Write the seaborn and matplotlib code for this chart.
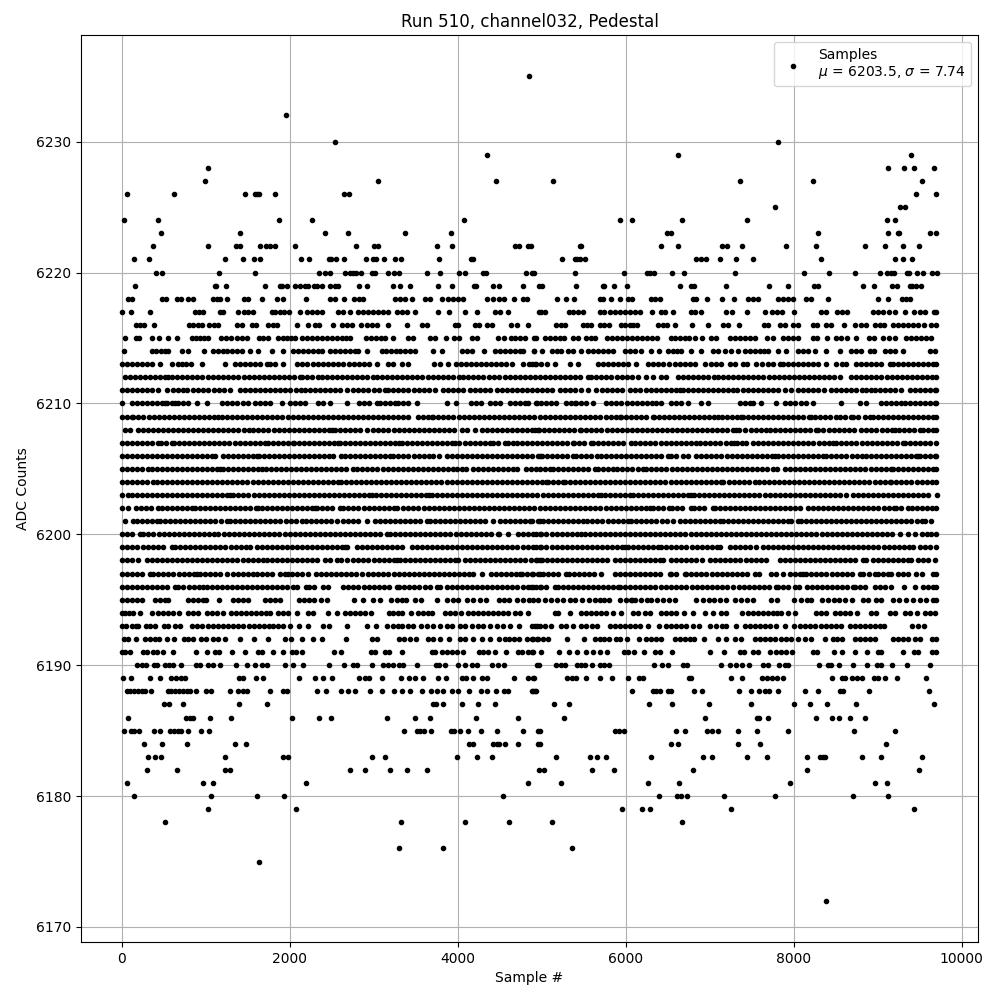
import pandas as pd
import matplotlib
matplotlib.use("Agg")
import matplotlib.pyplot as plt
import seaborn as sns

# ==========================
# DATA: sample numbers, one list per ADC level
# ==========================

s6235 = [4850]
s6232 = [1960]
s6230 = [2543, 7809]
s6229 = [4353, 6619, 9393]
s6228 = [1032, 9119, 9309, 9428, 9666]
s6227 = [996, 3055, 4460, 5131, 7357, 8226, 9523]
s6226 = [67, 627, 1472, 1591, 1615, 1639, 1829, 2650, 2710, 9452, 9690]
s6225 = [7774, 9262, 9321]
s6224 = [32, 436, 1877, 2270, 4079, 5929, 6071, 6667, 7440, 9107, 9202]
s6223 = [472, 1413, 2424, 2698, 3377, 3924, 6488, 6536, 8286, 9119, 9238, 9250, 9619, 9690]
s6222 = [377, 1032, 1365, 1413, 1651, 1722, 1770, 1829, 2067, 2793, 3007, 3055, 3758, 3936, 4686, 4734, 4841,
         4877, 5452, 5472, 6417, 6619, 7143, 7202, 7381, 7905, 8262, 8845, 9083, 9297, 9488]
s6221 = [151, 329, 1234, 1448, 1579, 1651, 2139, 2234, 2472, 2496, 2555, 2650, 2912, 2996, 3032, 3127, 3258, 3329,
         3781, 4158, 4182, 5238, 5393, 5417, 5452, 5512, 6833, 6893, 6952, 7119, 7309, 7512, 8321, 9202, 9297, 9404]
s6220 = [413, 484, 1163, 1591, 2353, 2424, 2484, 2663, 2722, 2758, 2793, 2853, 2984, 3019, 3174, 3246, 3305, 3639,
         3793, 4020, 4091, 4305, 4341, 4817, 4888, 4905, 5393, 5976, 6250, 6286, 6333, 6548, 6690, 7298, 8119, 8417,
         8726, 9024, 9107, 9155, 9190, 9345, 9369, 9464, 9535, 9643, 9702]
s6219 = [163, 1115, 1127, 1246, 1710, 1889, 1913, 1972, 2067, 2127, 2186, 2222, 2293, 2329, 2389, 2484, 2543, 2579,
         2829, 2924, 3234, 3317, 3436, 3770, 3936, 4198, 4222, 4424, 4496, 4781, 4972, 5000, 5405, 5726, 5738, 5857,
         6012, 6643, 6774, 6810, 7190, 7702, 7929, 8238, 8286, 8821, 8952, 9167, 9226, 9381, 9404, 9452, 9512]
s6218 = [79, 127, 484, 524, 663, 702, 794, 853, 1091, 1131, 1171, 1258, 1460, 1508, 1675, 1853, 1925, 2198, 2480,
         2540, 2651, 2770, 2829, 2877, 3254, 3313, 3373, 3452, 3611, 3670, 3809, 3881, 3948, 4008, 4059, 4353, 4424,
         4496, 4551, 4674, 4781, 4829, 5179, 5286, 5381, 5690, 5730, 5821, 5929, 6028, 6075, 6298, 6345, 6405, 6802,
         6841, 6968, 7147, 7286, 7456, 7516, 7575, 7813, 7873, 7932, 7992, 8151, 8202, 8405, 9000, 9119, 9294, 9341,
         9389]
s6217 = [0, 107, 341, 873, 921, 964, 1171, 1202, 1381, 1460, 1508, 1559, 1786, 1825, 1885, 1936, 1992, 2123, 2202,
         2262, 2321, 2381, 2579, 2639, 2718, 2817, 2877, 2936, 2996, 3055, 3115, 3174, 3274, 3333, 3393, 3492, 3770,
         3901, 4091, 4234, 4444, 4504, 4603, 4972, 4988, 5044, 5321, 5373, 5433, 5492, 5690, 5742, 5810, 5869, 5929,
         5988, 6048, 6107, 6167, 6313, 6425, 6464, 6563, 6774, 6829, 6893, 7190, 7266, 7444, 7655, 7742, 7801, 7861,
         8000, 8329, 8389, 8516, 8575, 8635, 8944, 9004, 9063, 9131, 9202, 9321, 9428, 9500, 9560, 9671, 9700]
s6216 = [167, 218, 270, 381, 806, 853, 905, 952, 1044, 1099, 1151, 1377, 1428, 1548, 1599, 1746, 1798, 1845, 2091,
         2222, 2302, 2349, 2520, 2627, 2686, 2738, 2849, 2916, 2976, 3035, 3170, 3401, 3571, 3631, 3968, 4008, 4206,
         4258, 4345, 4404, 4631, 4702, 4841, 5175, 5226, 5274, 5492, 5544, 5591, 5690, 5742, 5798, 5948, 5996, 6048,
         6087, 6139, 6385, 6444, 6496, 6591, 6790, 6980, 7159, 7218, 7345, 7643, 7694, 7833, 7893, 7992, 8052, 8230,
         8282, 8389, 8440, 8599, 8726, 8805, 8857, 8964, 9024, 9075, 9182, 9242, 9301, 9361, 9420, 9480, 9551, 9639,
         9698]
s6215 = [44, 167, 210, 365, 448, 556, 655, 833, 885, 933, 980, 1032, 1179, 1242, 1298, 1377, 1428, 1488, 1639, 1686,
         1746, 1865, 1917, 1964, 2016, 2063, 2151, 2202, 2262, 2321, 2381, 2440, 2500, 2560, 2619, 2670, 2718, 2905,
         2964, 3028, 3083, 3135, 3234, 3413, 3464, 3670, 3730, 3857, 3956, 4020, 4166, 4226, 4484, 4551, 4631, 4682,
         4742, 4801, 4908, 4929, 5036, 5095, 5155, 5214, 5266, 5373, 5433, 5532, 5583, 5631, 5782, 5841, 5901, 5960,
         6020, 6079, 6139, 6198, 6258, 6317, 6377, 6536, 6591, 6651, 6702, 6754, 6821, 6909, 7012, 7079, 7246, 7306,
         7365, 7425, 7484, 7544, 7686, 7754, 7873, 7932, 7992, 8052, 8230, 8282, 8401, 8508, 8567, 8639, 8746, 8893,
         8956, 9063, 9131, 9202, 9341, 9401, 9460, 9520, 9579, 9639]
s6214 = [28, 357, 412, 468, 510, 556, 714, 794, 984, 1091, 1147, 1202, 1258, 1314, 1372, 1428, 1528, 1627, 1790,
         1921, 2044, 2103, 2162, 2221, 2280, 2340, 2381, 2480, 2540, 2600, 2660, 2720, 2780, 2817, 2916, 3095, 3150,
         3210, 3262, 3313, 3373, 3432, 3492, 3710, 3809, 4047, 4107, 4166, 4318, 4444, 4503, 4562, 4621, 4680, 4740,
         4781, 4905, 4905, 5007, 5123, 5178, 5234, 5313, 5378, 5464, 5552, 5610, 5672, 5735, 5795, 5849, 5988, 6050,
         6110, 6186, 6298, 6393, 6504, 6565, 6610, 6663, 6782, 6893, 7040, 7100, 7179, 7258, 7337, 7417, 7475, 7535,
         7595, 7650, 7694, 7813, 7913, 8052, 8110, 8170, 8250, 8389, 8547, 8686, 8745, 8805, 8905, 8960, 9091, 9150,
         9210, 9301, 9619, 9679]
s6213 = [0, 60, 119, 178, 240, 300, 360, 456, 595, 666, 714, 770, 821, 952, 1230, 1349, 1410, 1470, 1530, 1590, 1650,
         1726, 1766, 1830, 1925, 2083, 2150, 2202, 2282, 2340, 2400, 2460, 2520, 2580, 2640, 2700, 2760, 2820, 2880,
         2940, 3035, 3174, 3235, 3333, 3413, 3720, 3789, 3881, 3980, 4040, 4100, 4160, 4220, 4280, 4340, 4400, 4460,
         4520, 4580, 4643, 4781, 4850, 4920, 4888, 4937, 4996, 5060, 5155, 5333, 5433, 5671, 5730, 5790, 5850, 5910,
         5970, 6030, 6127, 6270, 6330, 6390, 6450, 6520, 6591, 6651, 6710, 6770, 6830, 6941, 7016, 7075, 7139, 7238,
         7300, 7397, 7448, 7556, 7620, 7690, 7760, 7833, 7873, 7935, 7995, 8055, 8115, 8175, 8235, 8295, 8389, 8508,
         8570, 8627, 8746, 8805, 8865, 8925, 8985, 9045, 9143, 9182, 9240, 9300, 9360, 9420, 9480, 9540, 9600, 9660,
         9700]
s6212 = [40, 100, 160, 220, 280, 340, 400, 460, 520, 556, 595, 655, 715, 774, 833, 895, 955, 1032, 1091, 1150, 1210,
         1270, 1330, 1390, 1450, 1510, 1570, 1630, 1690, 1750, 1810, 1870, 1930, 1990, 2050, 2123, 2143, 2205, 2265,
         2341, 2381, 2440, 2500, 2560, 2620, 2680, 2740, 2800, 2860, 2920, 2996, 3035, 3095, 3155, 3215, 3275, 3335,
         3395, 3455, 3515, 3571, 3650, 3710, 3770, 3830, 3890, 3950, 4010, 4067, 4127, 4187, 4247, 4307, 4367, 4427,
         4487, 4563, 4623, 4683, 4743, 4803, 4863, 4920, 4980, 5040, 5100, 5160, 5220, 5280, 5340, 5400, 5460, 5552,
         5591, 5651, 5711, 5771, 5831, 5891, 5951, 6011, 6071, 6147, 6246, 6325, 6425, 6475, 6623, 6683, 6743, 6803,
         6863, 6923, 6983, 7052, 7099, 7159, 7219, 7279, 7339, 7399, 7459, 7519, 7579, 7639, 7702, 7766, 7826, 7886,
         7946, 8006, 8066, 8126, 8186, 8246, 8306, 8366, 8426, 8486, 8547, 8686, 8746, 8806, 8866, 8926, 8986, 9046,
         9106, 9166, 9226, 9286, 9346, 9406, 9466, 9526, 9586, 9646, 9700]
s6211 = [0, 60, 120, 180, 240, 300, 360, 436, 536, 615, 675, 735, 782, 853, 913, 973, 1033, 1093, 1153, 1213, 1290,
         1409, 1469, 1529, 1589, 1649, 1709, 1769, 1829, 1889, 1949, 2009, 2069, 2129, 2183, 2242, 2302, 2362, 2422,
         2482, 2542, 2602, 2678, 2758, 2818, 2878, 2938, 2998, 3058, 3135, 3174, 3234, 3294, 3354, 3414, 3474, 3534,
         3594, 3654, 3730, 3829, 3889, 3949, 4009, 4069, 4147, 4206, 4266, 4326, 4386, 4464, 4523, 4583, 4643, 4703,
         4763, 4823, 4883, 4943, 5003, 5063, 5123, 5214, 5274, 5334, 5394, 5464, 5552, 5651, 5718, 5778, 5838, 5898,
         5958, 6048, 6115, 6175, 6246, 6298, 6358, 6418, 6478, 6538, 6598, 6643, 6682, 6742, 6802, 6862, 6922, 6982,
         7042, 7102, 7162, 7222, 7282, 7329, 7397, 7457, 7517, 7577, 7637, 7697, 7757, 7817, 7893, 7972, 8051, 8111,
         8171, 8231, 8290, 8361, 8448, 8508, 8568, 8628, 8688, 8748, 8808, 8865, 8925, 8964, 9024, 9084, 9144, 9204,
         9282, 9381, 9441, 9501, 9561, 9621, 9681, 9700]
s6210 = [8, 119, 179, 239, 299, 359, 419, 479, 516, 536, 600, 635, 675, 735, 794, 900, 1012, 1190, 1250, 1310, 1370,
         1448, 1508, 1587, 1647, 1707, 1766, 1905, 2004, 2064, 2124, 2183, 2341, 2401, 2480, 2686, 2829, 2889, 2949,
         3035, 3075, 3135, 3195, 3255, 3293, 3353, 3413, 3511, 3869, 3980, 4155, 4215, 4282, 4385, 4445, 4504, 4623,
         4683, 4743, 4803, 4841, 4940, 4937, 4997, 5056, 5115, 5175, 5294, 5345, 5393, 5413, 5473, 5533, 5611, 5770,
         5830, 5890, 5950, 6010, 6070, 6130, 6190, 6250, 6310, 6365, 6425, 6544, 6604, 6664, 6742, 6901, 6980, 7357,
         7417, 7476, 7516, 7615, 7794, 7893, 7953, 8012, 8091, 8151, 8230, 8567, 8785, 8865, 9044, 9104, 9164, 9224,
         9282, 9321, 9381, 9441, 9501, 9561, 9621, 9681, 9700]
s6209 = [0, 60, 119, 139, 199, 259, 319, 379, 439, 499, 559, 619, 679, 739, 799, 859, 919, 979, 1039, 1099, 1151,
         1194, 1254, 1314, 1374, 1434, 1494, 1554, 1614, 1674, 1734, 1794, 1854, 1914, 1974, 2034, 2094, 2154, 2214,
         2274, 2334, 2394, 2454, 2514, 2574, 2634, 2694, 2754, 2814, 2874, 2934, 2994, 3054, 3114, 3174, 3234, 3294,
         3354, 3413, 3531, 3591, 3651, 3690, 3710, 3770, 3830, 3890, 3950, 4010, 4070, 4130, 4190, 4250, 4310, 4370,
         4430, 4490, 4550, 4610, 4670, 4730, 4790, 4850, 4910, 4980, 5040, 5100, 5160, 5220, 5280, 5340, 5400, 5460,
         5520, 5580, 5640, 5700, 5760, 5820, 5880, 5929, 5948, 6008, 6068, 6128, 6188, 6248, 6325, 6337, 6397, 6457,
         6517, 6577, 6637, 6697, 6757, 6817, 6877, 6937, 6997, 7057, 7099, 7147, 7207, 7267, 7327, 7377, 7397, 7457,
         7517, 7577, 7637, 7697, 7757, 7817, 7877, 7937, 7997, 8057, 8117, 8177, 8210, 8250, 8310, 8370, 8430, 8508,
         8547, 8607, 8686, 8706, 8766, 8845, 8905, 8944, 9004, 9064, 9124, 9184, 9244, 9304, 9364, 9424, 9484, 9544,
         9604, 9664, 9700]
s6208 = [40, 100, 198, 250, 310, 370, 430, 490, 550, 610, 670, 730, 790, 850, 910, 970, 1030, 1090, 1150, 1210, 1270,
         1330, 1390, 1450, 1510, 1560, 1627, 1687, 1747, 1807, 1867, 1927, 1987, 2047, 2107, 2167, 2227, 2287, 2347,
         2407, 2467, 2500, 2540, 2600, 2660, 2720, 2780, 2840, 2916, 2996, 3056, 3116, 3176, 3236, 3296, 3356, 3416,
         3476, 3536, 3596, 3656, 3716, 3776, 3836, 3896, 3956, 4047, 4107, 4204, 4285, 4345, 4405, 4465, 4525, 4585,
         4645, 4705, 4765, 4825, 4885, 4920, 4960, 4964, 5024, 5084, 5144, 5204, 5264, 5324, 5384, 5452, 5472, 5532,
         5592, 5652, 5712, 5772, 5832, 5892, 5952, 6012, 6072, 6132, 6192, 6252, 6312, 6372, 6432, 6492, 6552, 6612,
         6672, 6732, 6792, 6852, 6912, 6972, 7032, 7092, 7152, 7212, 7272, 7317, 7345, 7420, 7496, 7556, 7616, 7676,
         7714, 7774, 7834, 7894, 7954, 8014, 8074, 8134, 8194, 8270, 8290, 8349, 8417, 8477, 8537, 8597, 8657, 8718,
         8805, 8865, 8925, 8984, 9052, 9112, 9172, 9202, 9250, 9310, 9370, 9430, 9500, 9540, 9600, 9660, 9700]
s6207 = [0, 60, 120, 180, 240, 300, 360, 437, 464, 524, 595, 623, 683, 743, 803, 863, 923, 983, 1043, 1103, 1163,
         1223, 1283, 1343, 1403, 1463, 1523, 1583, 1643, 1703, 1746, 1798, 1858, 1918, 1978, 2036, 2052, 2112, 2172,
         2232, 2292, 2352, 2412, 2472, 2532, 2579, 2599, 2659, 2719, 2779, 2839, 2899, 2959, 3019, 3079, 3139, 3199,
         3259, 3305, 3333, 3393, 3453, 3513, 3573, 3633, 3693, 3753, 3813, 3873, 3933, 3968, 4020, 4087, 4147, 4207,
         4267, 4327, 4385, 4424, 4484, 4563, 4603, 4660, 4702, 4762, 4822, 4882, 4942, 5002, 5062, 5122, 5182, 5242,
         5302, 5373, 5385, 5445, 5505, 5583, 5611, 5671, 5731, 5791, 5851, 5911, 5971, 6067, 6115, 6175, 6235, 6295,
         6355, 6415, 6475, 6535, 6595, 6655, 6715, 6775, 6841, 6889, 6949, 7009, 7069, 7129, 7189, 7249, 7290, 7329,
         7389, 7436, 7516, 7576, 7636, 7696, 7756, 7816, 7876, 7936, 7996, 8056, 8116, 8176, 8236, 8296, 8356, 8416,
         8468, 8508, 8568, 8628, 8688, 8748, 8808, 8868, 8928, 8988, 9048, 9108, 9168, 9228, 9301, 9330, 9389, 9449,
         9509, 9569, 9629, 9700]
s6206 = [0, 60, 120, 180, 240, 300, 360, 420, 480, 540, 600, 660, 720, 780, 840, 900, 960, 1020, 1080, 1111, 1206,
         1266, 1326, 1386, 1446, 1506, 1566, 1607, 1630, 1690, 1750, 1810, 1870, 1930, 1990, 2050, 2110, 2170, 2230,
         2290, 2350, 2410, 2470, 2520, 2607, 2659, 2719, 2779, 2839, 2899, 2959, 3019, 3079, 3139, 3194, 3234, 3294,
         3354, 3414, 3474, 3534, 3594, 3654, 3710, 3781, 3877, 3928, 3988, 4048, 4108, 4168, 4228, 4288, 4348, 4408,
         4468, 4528, 4588, 4648, 4708, 4768, 4828, 4888, 4960, 4976, 5004, 5064, 5124, 5184, 5244, 5304, 5373, 5413,
         5472, 5532, 5592, 5663, 5702, 5762, 5822, 5882, 5942, 6002, 6062, 6122, 6182, 6242, 6302, 6362, 6422, 6504,
         6544, 6604, 6682, 6741, 6841, 6901, 6961, 7021, 7081, 7141, 7201, 7261, 7321, 7381, 7441, 7501, 7561, 7621,
         7681, 7741, 7774, 7813, 7873, 7933, 7993, 8053, 8113, 8173, 8233, 8293, 8349, 8389, 8449, 8509, 8569, 8629,
         8689, 8749, 8813, 8857, 8917, 8977, 9037, 9097, 9157, 9217, 9277, 9337, 9397, 9457, 9480, 9500, 9560, 9620,
         9680, 9700]
s6205 = [0, 60, 120, 180, 240, 317, 357, 417, 477, 537, 597, 657, 717, 777, 837, 897, 957, 1017, 1077, 1137, 1170,
         1202, 1262, 1322, 1382, 1442, 1502, 1562, 1622, 1667, 1714, 1774, 1834, 1894, 1954, 2014, 2074, 2134, 2194,
         2254, 2314, 2374, 2434, 2494, 2554, 2614, 2674, 2758, 2805, 2865, 2925, 2985, 3045, 3105, 3165, 3225, 3285,
         3345, 3405, 3465, 3525, 3585, 3645, 3705, 3765, 3825, 3885, 3948, 3996, 4055, 4099, 4186, 4246, 4306, 4366,
         4426, 4476, 4535, 4595, 4655, 4702, 4813, 4873, 4933, 4980, 5040, 5095, 5135, 5195, 5255, 5315, 5375, 5435,
         5495, 5552, 5631, 5671, 5731, 5791, 5849, 5901, 5961, 6021, 6081, 6141, 6206, 6246, 6306, 6366, 6426, 6486,
         6546, 6606, 6666, 6726, 6786, 6846, 6906, 6966, 7026, 7086, 7146, 7206, 7266, 7326, 7386, 7446, 7506, 7566,
         7626, 7686, 7754, 7805, 7893, 7953, 8013, 8073, 8133, 8193, 8253, 8313, 8373, 8433, 8493, 8553, 8613, 8673,
         8733, 8785, 8845, 8925, 8984, 9044, 9104, 9155, 9182, 9242, 9302, 9362, 9422, 9482, 9542, 9602, 9662, 9700]
s6204 = [0, 60, 120, 180, 240, 300, 377, 417, 477, 537, 597, 657, 717, 777, 837, 897, 957, 1017, 1077, 1137, 1197,
         1257, 1317, 1377, 1437, 1497, 1557, 1617, 1677, 1737, 1797, 1857, 1917, 1977, 2037, 2097, 2157, 2217, 2277,
         2337, 2397, 2457, 2517, 2579, 2607, 2667, 2727, 2787, 2847, 2907, 2967, 3027, 3087, 3147, 3207, 3267, 3327,
         3387, 3447, 3507, 3567, 3627, 3687, 3747, 3807, 3867, 3927, 3987, 4047, 4107, 4167, 4227, 4287, 4347, 4407,
         4467, 4527, 4587, 4647, 4707, 4767, 4827, 4887, 4947, 5007, 5056, 5075, 5135, 5195, 5254, 5274, 5334, 5394,
         5454, 5514, 5574, 5634, 5694, 5754, 5814, 5874, 5934, 5994, 6054, 6114, 6174, 6234, 6294, 6354, 6414, 6474,
         6534, 6594, 6654, 6714, 6774, 6834, 6894, 6954, 7014, 7074, 7134, 7159, 7226, 7286, 7346, 7406, 7466, 7543,
         7583, 7643, 7703, 7763, 7823, 7883, 7943, 8003, 8063, 8123, 8183, 8243, 8303, 8363, 8423, 8483, 8543, 8603,
         8663, 8723, 8783, 8843, 8903, 8963, 9023, 9083, 9143, 9163, 9223, 9283, 9343, 9403, 9463, 9523, 9583, 9643,
         9698]
s6203 = [0, 79, 119, 179, 239, 299, 359, 419, 479, 539, 599, 659, 719, 779, 839, 899, 959, 1019, 1079, 1139, 1199,
         1259, 1290, 1329, 1389, 1449, 1509, 1569, 1629, 1689, 1749, 1809, 1869, 1929, 1989, 2049, 2109, 2169, 2229,
         2289, 2349, 2409, 2469, 2529, 2589, 2649, 2709, 2769, 2829, 2889, 2949, 2976, 3028, 3088, 3148, 3208, 3268,
         3328, 3388, 3448, 3508, 3568, 3628, 3662, 3690, 3750, 3810, 3870, 3930, 3990, 4050, 4110, 4170, 4230, 4290,
         4350, 4410, 4470, 4530, 4590, 4650, 4710, 4770, 4830, 4890, 4950, 5010, 5070, 5130, 5190, 5250, 5310, 5370,
         5430, 5490, 5550, 5610, 5670, 5710, 5758, 5818, 5878, 5938, 5998, 6048, 6087, 6147, 6207, 6267, 6327, 6387,
         6447, 6507, 6567, 6627, 6687, 6747, 6782, 6813, 6873, 6933, 6993, 7053, 7113, 7173, 7233, 7293, 7353, 7413,
         7473, 7533, 7593, 7653, 7713, 7773, 7833, 7893, 7953, 8013, 8073, 8133, 8193, 8253, 8313, 8373, 8433, 8493,
         8553, 8627, 8706, 8766, 8826, 8886, 8946, 9006, 9066, 9126, 9186, 9246, 9306, 9366, 9426, 9486, 9546, 9599,
         9710]
s6202 = [0, 79, 171, 231, 291, 351, 436, 476, 536, 596, 656, 716, 776, 833, 873, 933, 993, 1053, 1113, 1173, 1233,
         1293, 1353, 1413, 1473, 1533, 1593, 1627, 1667, 1727, 1787, 1847, 1907, 1967, 2027, 2087, 2147, 2207, 2267,
         2301, 2321, 2381, 2441, 2501, 2599, 2639, 2699, 2759, 2819, 2879, 2939, 2999, 3059, 3119, 3179, 3239, 3274,
         3353, 3413, 3473, 3533, 3593, 3653, 3713, 3773, 3833, 3893, 3953, 4013, 4073, 4133, 4193, 4253, 4313, 4373,
         4433, 4493, 4553, 4613, 4673, 4733, 4793, 4853, 4913, 4980, 5040, 5100, 5160, 5220, 5280, 5340, 5400, 5460,
         5520, 5580, 5640, 5700, 5760, 5820, 5880, 5940, 6000, 6060, 6120, 6180, 6240, 6286, 6325, 6385, 6445, 6512,
         6552, 6612, 6672, 6774, 6813, 6873, 6933, 7040, 7060, 7120, 7180, 7240, 7300, 7360, 7420, 7480, 7540, 7600,
         7660, 7720, 7780, 7840, 7900, 7960, 8020, 8080, 8170, 8230, 8290, 8350, 8410, 8470, 8530, 8590, 8650, 8710,
         8770, 8830, 8890, 8950, 9010, 9070, 9130, 9194, 9222, 9282, 9361, 9405, 9465, 9525, 9585, 9645, 9700]
s6201 = [40, 139, 179, 239, 299, 359, 419, 456, 516, 576, 636, 696, 756, 816, 876, 936, 996, 1056, 1116, 1176, 1250,
         1290, 1350, 1410, 1470, 1530, 1590, 1650, 1710, 1770, 1830, 1890, 1950, 2010, 2070, 2143, 2194, 2254, 2314,
         2374, 2434, 2494, 2559, 2639, 2699, 2759, 2819, 2916, 3016, 3076, 3136, 3196, 3256, 3316, 3376, 3436, 3496,
         3556, 3631, 3670, 3730, 3790, 3850, 3910, 3970, 4030, 4090, 4150, 4210, 4270, 4330, 4424, 4504, 4564, 4624,
         4684, 4744, 4804, 4864, 4960, 4880, 4976, 5016, 5076, 5136, 5196, 5256, 5316, 5376, 5436, 5492, 5544, 5604,
         5664, 5724, 5784, 5844, 5904, 5964, 6028, 6067, 6127, 6187, 6247, 6307, 6367, 6427, 6487, 6563, 6643, 6703,
         6763, 6823, 6883, 6943, 7003, 7063, 7119, 7159, 7219, 7279, 7339, 7399, 7459, 7519, 7579, 7639, 7699, 7759,
         7819, 7879, 7933, 7972, 8051, 8083, 8143, 8203, 8263, 8323, 8383, 8443, 8503, 8563, 8623, 8683, 8743, 8803,
         8863, 8923, 8983, 9043, 9103, 9163, 9223, 9283, 9343, 9403, 9463, 9523, 9559, 9631]
s6200 = [0, 60, 120, 218, 258, 318, 378, 438, 498, 558, 618, 678, 738, 798, 858, 918, 978, 1038, 1098, 1151, 1218,
         1278, 1338, 1398, 1458, 1518, 1578, 1638, 1698, 1758, 1818, 1878, 1938, 1998, 2058, 2118, 2178, 2238, 2298,
         2358, 2418, 2478, 2538, 2598, 2658, 2718, 2778, 2838, 2898, 2958, 3018, 3078, 3154, 3194, 3254, 3314, 3374,
         3434, 3494, 3554, 3614, 3674, 3734, 3794, 3854, 3914, 3974, 4034, 4094, 4154, 4214, 4274, 4334, 4394, 4484,
         4496, 4603, 4714, 4774, 4834, 4894, 4980, 4937, 4997, 5057, 5117, 5177, 5237, 5297, 5357, 5417, 5472, 5512,
         5572, 5632, 5692, 5752, 5812, 5872, 5932, 5992, 6052, 6112, 6172, 6232, 6292, 6352, 6412, 6472, 6532, 6592,
         6652, 6712, 6772, 6832, 6892, 6952, 7012, 7072, 7132, 7192, 7252, 7312, 7372, 7432, 7492, 7552, 7612, 7672,
         7732, 7792, 7852, 7912, 7972, 8032, 8092, 8152, 8212, 8272, 8332, 8392, 8452, 8512, 8572, 8632, 8692, 8752,
         8812, 8872, 8932, 8992, 9052, 9112, 9172, 9262, 9361, 9440, 9527, 9585, 9639, 9700]
s6199 = [0, 60, 120, 179, 258, 317, 377, 437, 497, 595, 635, 695, 755, 815, 875, 935, 995, 1055, 1115, 1175, 1235,
         1295, 1355, 1415, 1475, 1528, 1607, 1667, 1727, 1787, 1847, 1907, 1967, 2027, 2087, 2147, 2207, 2267, 2327,
         2387, 2447, 2507, 2567, 2627, 2659, 2686, 2797, 2857, 2917, 2977, 3037, 3097, 3157, 3217, 3277, 3333, 3452,
         3512, 3572, 3632, 3692, 3752, 3812, 3872, 3932, 3992, 4052, 4112, 4172, 4232, 4292, 4352, 4412, 4472, 4532,
         4592, 4652, 4712, 4772, 4832, 4892, 4980, 4937, 4997, 5057, 5117, 5177, 5237, 5297, 5357, 5417, 5477, 5537,
         5597, 5657, 5717, 5777, 5837, 5897, 5957, 5988, 6028, 6088, 6148, 6208, 6268, 6328, 6388, 6425, 6484, 6544,
         6604, 6664, 6724, 6784, 6844, 6904, 6964, 7024, 7084, 7119, 7238, 7298, 7358, 7418, 7478, 7555, 7635, 7695,
         7755, 7815, 7875, 7935, 7995, 8055, 8111, 8170, 8230, 8290, 8350, 8410, 8470, 8530, 8590, 8650, 8710, 8770,
         8830, 8890, 8950, 9010, 9070, 9130, 9190, 9250, 9310, 9370, 9420, 9500, 9560, 9620, 9700]
s6198 = [0, 60, 120, 198, 298, 358, 418, 478, 538, 598, 658, 718, 778, 838, 898, 958, 1018, 1078, 1138, 1198, 1258,
         1318, 1378, 1438, 1498, 1558, 1618, 1686, 1726, 1786, 1846, 1906, 1966, 2026, 2086, 2146, 2206, 2266, 2321,
         2420, 2480, 2559, 2607, 2678, 2758, 2818, 2878, 2938, 2998, 3058, 3118, 3178, 3238, 3274, 3313, 3373, 3433,
         3493, 3553, 3613, 3673, 3733, 3793, 3853, 3913, 3973, 4008, 4087, 4147, 4207, 4267, 4327, 4387, 4447, 4507,
         4567, 4627, 4687, 4747, 4807, 4867, 4927, 4980, 4940, 5000, 5060, 5120, 5180, 5240, 5300, 5360, 5420, 5480,
         5540, 5600, 5660, 5720, 5780, 5869, 5929, 5989, 6048, 6107, 6167, 6227, 6287, 6347, 6405, 6444, 6544, 6603,
         6663, 6723, 6783, 6843, 6903, 7000, 7067, 7127, 7187, 7247, 7307, 7367, 7427, 7487, 7547, 7607, 7675, 7833,
         7893, 7953, 8013, 8073, 8133, 8193, 8253, 8313, 8373, 8433, 8493, 8553, 8613, 8673, 8733, 8825, 8857, 8944,
         9004, 9064, 9124, 9184, 9244, 9304, 9364, 9401, 9480, 9540, 9600, 9680]
s6197 = [0, 60, 120, 180, 240, 337, 377, 436, 496, 556, 616, 676, 736, 796, 856, 893, 932, 992, 1052, 1112, 1172,
         1250, 1321, 1381, 1441, 1501, 1567, 1607, 1667, 1727, 1786, 1885, 1945, 1984, 2024, 2084, 2144, 2222, 2313,
         2373, 2433, 2493, 2553, 2613, 2673, 2733, 2793, 2857, 2936, 2996, 3056, 3116, 3176, 3236, 3296, 3356, 3416,
         3476, 3536, 3596, 3656, 3716, 3776, 3836, 3896, 3956, 4016, 4076, 4136, 4186, 4285, 4393, 4453, 4513, 4573,
         4633, 4693, 4742, 4762, 4822, 4882, 4980, 4897, 4957, 5017, 5077, 5137, 5197, 5294, 5321, 5381, 5441, 5501,
         5561, 5621, 5710, 5869, 5929, 5989, 6049, 6109, 6169, 6229, 6289, 6349, 6409, 6524, 6544, 6604, 6702, 6722,
         6782, 6842, 6902, 6962, 7022, 7082, 7142, 7202, 7262, 7322, 7382, 7442, 7536, 7587, 7734, 7794, 7873, 7952,
         8012, 8072, 8111, 8151, 8211, 8271, 8331, 8391, 8451, 8511, 8571, 8631, 8691, 8785, 8825, 8893, 8972, 9004,
         9064, 9124, 9163, 9242, 9302, 9362, 9460, 9527, 9659, 9700]
s6196 = [0, 60, 120, 180, 240, 300, 360, 420, 480, 540, 635, 675, 735, 795, 855, 915, 972, 1012, 1072, 1132, 1192,
         1252, 1312, 1372, 1432, 1492, 1552, 1612, 1672, 1732, 1792, 1852, 1912, 1972, 2044, 2091, 2194, 2234, 2294,
         2393, 2460, 2639, 2699, 2759, 2819, 2879, 2939, 2999, 3059, 3119, 3179, 3274, 3305, 3365, 3425, 3485, 3545,
         3605, 3665, 3750, 3789, 3869, 3929, 3989, 4049, 4109, 4169, 4229, 4289, 4349, 4409, 4469, 4529, 4589, 4649,
         4709, 4781, 4841, 4901, 4980, 4877, 4937, 4997, 5057, 5163, 5194, 5254, 5314, 5374, 5434, 5494, 5554, 5614,
         5674, 5734, 5794, 5854, 5909, 5929, 5989, 6049, 6109, 6169, 6229, 6289, 6349, 6425, 6484, 6544, 6604, 6664,
         6724, 6784, 6844, 6904, 6964, 7024, 7084, 7144, 7204, 7278, 7345, 7405, 7465, 7525, 7585, 7645, 7705, 7794,
         7813, 7873, 7933, 8012, 8059, 8155, 8215, 8275, 8335, 8395, 8455, 8515, 8575, 8635, 8706, 8734, 8794, 8854,
         8964, 9024, 9084, 9163, 9313, 9440, 9540, 9600, 9660, 9700]
s6195 = [0, 60, 119, 179, 238, 397, 456, 516, 556, 794, 853, 913, 972, 1004, 1163, 1329, 1389, 1448, 1508, 1706,
         1766, 1825, 1885, 2115, 2174, 2234, 2293, 2373, 2440, 2766, 2869, 2996, 3075, 3202, 3274, 3333, 3384, 3492,
         3563, 3754, 3877, 3940, 4008, 4111, 4186, 4266, 4337, 4496, 4551, 4611, 4702, 4773, 4845, 4897, 4956, 5044,
         5115, 5186, 5254, 5333, 5397, 5476, 5560, 5631, 5690, 5742, 5798, 5932, 6004, 6075, 6059, 6115, 6186, 6258,
         6305, 6377, 6444, 6512, 6583, 6841, 6921, 6988, 7056, 7127, 7198, 7298, 7369, 7448, 7516, 7726, 7805, 8000,
         8083, 8163, 8210, 8337, 8405, 8484, 8543, 8607, 8694, 8825, 8885, 8984, 9044, 9178, 9258, 9337, 9416, 9500,
         9579, 9659, 9700]
s6194 = [0, 40, 91, 139, 214, 365, 436, 496, 556, 615, 686, 794, 853, 913, 1012, 1071, 1131, 1210, 1298, 1357, 1417,
         1476, 1536, 1595, 1655, 1714, 1766, 1865, 1917, 1984, 2091, 2222, 2282, 2460, 2567, 2659, 2718, 2777, 2837,
         2897, 2964, 3178, 3234, 3293, 3341, 3440, 3531, 3591, 3650, 3698, 3849, 3908, 3968, 4035, 4127, 4186, 4246,
         4305, 4365, 4424, 4484, 4543, 4603, 4682, 4742, 4833, 5155, 5194, 5333, 5464, 5532, 5591, 5651, 5710, 5770,
         5849, 5940, 6087, 6147, 6226, 6286, 6425, 6484, 6544, 6603, 6694, 6802, 6948, 7040, 7131, 7198, 7385, 7456,
         7516, 7575, 7635, 7694, 7754, 7805, 7853, 7932, 8012, 8270, 8329, 8389, 8488, 8547, 8607, 8667, 8754, 8916,
         8984, 9143, 9202, 9321, 9381, 9472, 9560, 9619, 9687]
s6193 = [0, 52, 119, 171, 198, 286, 337, 397, 504, 556, 635, 694, 833, 893, 952, 1032, 1091, 1151, 1210, 1270, 1329,
         1389, 1448, 1516, 1575, 1639, 1694, 1754, 1806, 1865, 1925, 2004, 2107, 2218, 2401, 2472, 2686, 2924, 3032,
         3162, 3226, 3293, 3333, 3413, 3472, 3559, 3631, 3710, 3789, 3869, 3928, 4028, 4087, 4166, 4246, 4305, 4385,
         4464, 4543, 4623, 4734, 4881, 4948, 4917, 4976, 5036, 5107, 5226, 5294, 5373, 5472, 5532, 5603, 5663, 5809,
         5869, 5929, 5988, 6048, 6107, 6171, 6262, 6393, 6484, 6544, 6603, 6663, 6722, 6802, 6869, 7000, 7079, 7147,
         7198, 7309, 7417, 7476, 7536, 7595, 7655, 7714, 7793, 7901, 8000, 8071, 8131, 8190, 8250, 8321, 8389, 8448,
         8508, 8567, 8667, 8726, 8785, 8845, 8904, 8964, 9024, 9075, 9412, 9480, 9547]
s6192 = [28, 79, 171, 278, 337, 397, 448, 536, 627, 742, 794, 845, 940, 1004, 1091, 1151, 1230, 1409, 1579, 1746,
         1944, 2012, 2143, 2282, 2381, 2674, 2976, 3035, 3301, 3361, 3432, 3504, 3650, 3710, 3789, 3901, 4028, 4087,
         4186, 4285, 4385, 4496, 4563, 4615, 4674, 4730, 4821, 4881, 4940, 4897, 4956, 5016, 5075, 5302, 5500, 5639,
         5690, 5742, 5798, 5889, 5936, 6020, 6155, 6246, 6298, 6365, 6425, 6583, 6643, 6702, 6762, 6810, 6929, 7099,
         7198, 7306, 7377, 7536, 7595, 7655, 7714, 7774, 7845, 7913, 7972, 8052, 8131, 8202, 8369, 8468, 8516, 8575,
         8726, 8785, 8845, 8904, 8964, 9182, 9242, 9301, 9361, 9440, 9500, 9651, 9700]
s6191 = [0, 40, 99, 258, 298, 377, 425, 496, 607, 881, 1020, 1111, 1155, 1313, 1472, 1627, 1671, 1806, 1925, 2024,
         2075, 2143, 2532, 2615, 2972, 3016, 3135, 3186, 3341, 3690, 3730, 3809, 3869, 3928, 3988, 4059, 4258, 4305,
         4365, 4448, 4579, 4714, 4762, 4841, 4889, 4897, 4988, 5202, 5321, 5417, 5524, 5607, 5690, 5774, 5976, 6028,
         6099, 6218, 6353, 6405, 6552, 7000, 7167, 7357, 7405, 7516, 7575, 7714, 7793, 7853, 7912, 7980, 8230, 8282,
         8484, 8575, 8726, 8869, 9004, 9043, 9297, 9432, 9480, 9643, 9700]
s6190 = [186, 238, 290, 385, 425, 516, 563, 607, 706, 885, 933, 1032, 1083, 1171, 1365, 1496, 1591, 1675, 1726, 1948,
         2044, 2163, 2472, 2651, 2758, 2805, 2984, 3115, 3174, 3234, 3305, 3353, 3512, 3742, 3782, 3853, 4008, 4087,
         4166, 4234, 4404, 4484, 4555, 4948, 4964, 5175, 5226, 5274, 5417, 5472, 5520, 5595, 5690, 5742, 5798, 6333,
         6433, 6504, 6682, 6730, 7131, 7242, 7309, 7389, 7464, 7635, 7694, 7821, 7893, 7932, 8297, 8409, 8448, 8535,
         8702, 8869, 8992, 9043, 9167, 9353, 9619]
s6189 = [20, 107, 341, 460, 587, 647, 702, 758, 1401, 1448, 1603, 1686, 2115, 2305, 2393, 2508, 2829, 2897, 2948,
         3103, 3329, 3424, 3496, 3591, 3770, 3865, 4047, 4099, 4182, 4285, 4345, 4674, 4841, 4893, 4909, 5306, 5361,
         5413, 5524, 5690, 5833, 6024, 6155, 6210, 6750, 6782, 7250, 7381, 7627, 7686, 7742, 7805, 7873, 8452, 8575,
         8615, 8698, 8758, 8813, 8956, 9004, 9083, 9226, 9571]
s6188 = [60, 99, 151, 198, 238, 278, 353, 548, 587, 635, 686, 734, 782, 813, 881, 1004, 1059, 1294, 1385, 1448, 1496,
         1770, 1925, 1972, 2329, 2436, 2615, 2698, 2781, 2960, 3103, 3246, 3341, 3428, 3579, 3686, 3758, 3829, 3936,
         4008, 4139, 4282, 4353, 4460, 4555, 4603, 4881, 4920, 4897, 4937, 6071, 6325, 6365, 6405, 6504, 6544, 6810,
         6905, 7345, 7488, 7583, 7655, 7702, 7809, 8131, 8286, 8547, 8591, 8893, 9607]
s6187 = [508, 567, 734, 1401, 1734, 3710, 3742, 3829, 4055, 4246, 4448, 5143, 5321, 6274, 6548, 6988, 7488, 8000,
         8190, 8393, 8738, 9667]
s6186 = [79, 766, 813, 853, 1055, 1305, 2032, 2353, 2496, 3162, 3496, 3674, 4222, 4722, 5262, 6940, 7559, 7583, 7690,
         8262, 8452, 8535, 8667, 8845]
s6185 = [32, 111, 151, 210, 389, 460, 575, 623, 675, 706, 794, 948, 1044, 3365, 3512, 3552, 3599, 3686, 3921, 3956,
         4032, 4127, 4282, 4472, 4781, 4952, 4976, 5869, 5917, 5980, 6595, 6702, 6972, 7024, 7095, 7333, 7559, 7928,
         8714, 9202]
s6184 = [270, 484, 782, 1353, 1484, 4139, 4186, 4424, 4464, 4496, 4567, 4722, 4960, 4976, 6536, 6619, 7333, 7595,
         9095]
s6183 = [317, 401, 472, 1234, 1925, 1984, 2984, 3139, 3996, 4234, 4412, 5167, 5571, 5655, 5762, 6298, 6917, 7024,
         7440, 7678, 8155, 8310, 8345, 8369, 8809, 9035, 9524]
s6182 = [306, 663, 1234, 1294, 2722, 2901, 3198, 3401, 3639, 4972, 5024, 5595, 5857, 6798, 8155, 9488]
s6181 = [67, 972, 1091, 2198, 4841, 5226, 6262, 6631, 7952, 8964, 9107]
s6180 = [151, 1067, 1615, 1936, 4543, 6393, 6607, 6655, 6726, 7167, 7774, 8702, 9119]
s6179 = [1032, 2079, 5952, 6190, 6286, 7250, 9428]
s6178 = [520, 3329, 4091, 4615, 5119, 6667]
s6176 = [3305, 3829, 5357]
s6175 = [1639]
s6172 = [8381]

adc_levels = [
    (6235, s6235), (6232, s6232), (6230, s6230), (6229, s6229), (6228, s6228), (6227, s6227), (6226, s6226),
    (6225, s6225), (6224, s6224), (6223, s6223), (6222, s6222), (6221, s6221), (6220, s6220), (6219, s6219),
    (6218, s6218), (6217, s6217), (6216, s6216), (6215, s6215), (6214, s6214), (6213, s6213), (6212, s6212),
    (6211, s6211), (6210, s6210), (6209, s6209), (6208, s6208), (6207, s6207), (6206, s6206), (6205, s6205),
    (6204, s6204), (6203, s6203), (6202, s6202), (6201, s6201), (6200, s6200), (6199, s6199), (6198, s6198),
    (6197, s6197), (6196, s6196), (6195, s6195), (6194, s6194), (6193, s6193), (6192, s6192), (6191, s6191),
    (6190, s6190), (6189, s6189), (6188, s6188), (6187, s6187), (6186, s6186), (6185, s6185), (6184, s6184),
    (6183, s6183), (6182, s6182), (6181, s6181), (6180, s6180), (6179, s6179), (6178, s6178), (6176, s6176),
    (6175, s6175), (6172, s6172),
]

rows = []
for level, samples in adc_levels:
    for sample in samples:
        rows.append({"sample": sample, "adc": level})
df = pd.DataFrame(rows)

# ==========================
# PLOT
# ==========================

fig, ax = plt.subplots(figsize=(10, 10), dpi=100)

# zorder 2 keeps the dots over the grid lines
sns.scatterplot(data=df, x="sample", y="adc", color="black", marker=".", s=36,
                edgecolor="black", linewidth=1, zorder=2, ax=ax,
                label="Samples\n$\\mu$ = 6203.5, $\\sigma$ = 7.74")

ax.set_title("Run 510, channel032, Pedestal")
ax.set_xlabel("Sample #")
ax.set_ylabel("ADC Counts")
ax.set_xlim(-485, 10195)
ax.set_ylim(6168.85, 6238.15)
ax.grid(True)
ax.legend(loc="upper right")

fig.subplots_adjust(left=0.081, right=0.978, top=0.965, bottom=0.058)
plt.savefig("out.png", dpi=100)
plt.close()
